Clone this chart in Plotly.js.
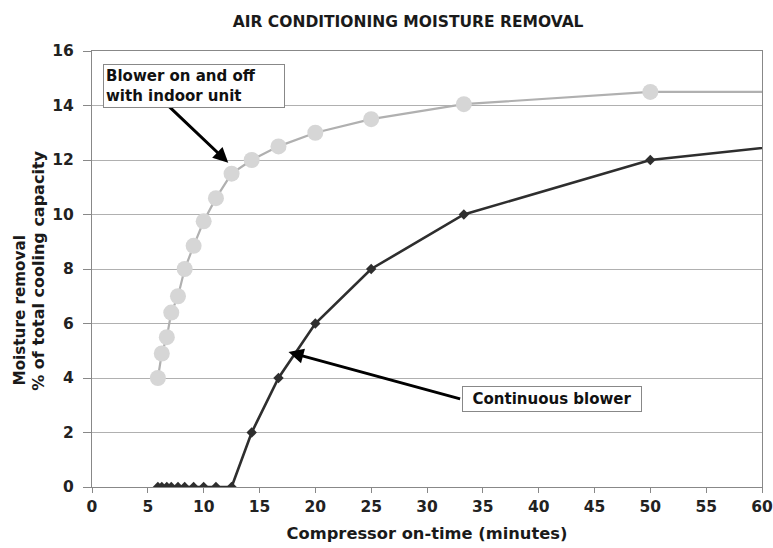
<!DOCTYPE html>
<html>
<head>
<meta charset="utf-8">
<script src="https://cdn.plot.ly/plotly-3.0.1.min.js"></script>
<style>html,body{margin:0;padding:0;background:#fff;}#chart{width:773px;height:548px;}</style>
</head>
<body>
<div id="chart"></div>
<script>
// Compressor on-time (minutes) for each cycle setting
const onTime = [100, 50, 33.3, 25, 20, 16.7, 14.3, 12.5, 11.1, 10, 9.1, 8.3, 7.7, 7.1, 6.7, 6.25, 5.9];
// Moisture removal, % of total cooling capacity
const blowerOnOff = [14.5, 14.5, 14.05, 13.5, 13.0, 12.5, 12.0, 11.5, 10.6, 9.75, 8.85, 8.0, 7.0, 6.4, 5.5, 4.9, 4.0];
const continuousBlower = [14.2, 12.0, 10.0, 8.0, 6.0, 4.0, 2.0, 0, 0, 0, 0, 0, 0, 0, 0, 0, 0];
const xTicks = [0, 5, 10, 15, 20, 25, 30, 35, 40, 45, 50, 55, 60];
const yTicks = [0, 2, 4, 6, 8, 10, 12, 14, 16];

const D = "DejaVu Sans, Verdana, sans-serif";

const traces = [
  {
    x: onTime, y: blowerOnOff, type: 'scatter', mode: 'lines+markers',
    name: 'Blower on and off with indoor unit',
    line: {color: '#b0b0b0', width: 2.2},
    marker: {symbol: 'circle', size: 16, color: '#d6d6d6', line: {width: 0}},
    cliponaxis: true
  },
  {
    x: onTime, y: continuousBlower, type: 'scatter', mode: 'lines+markers',
    name: 'Continuous blower',
    line: {color: '#2e2e2e', width: 2.6},
    marker: {symbol: 'diamond', size: 8, color: '#2e2e2e'},
    cliponaxis: true
  }
];

const layout = {
  width: 773, height: 548,
  margin: {l: 92, r: 11, t: 51, b: 61},
  paper_bgcolor: '#fff', plot_bgcolor: '#fff',
  showlegend: false,
  font: {family: D, size: 13, color: '#222', weight: 700},
  title: {
    text: 'AIR CONDITIONING MOISTURE REMOVAL',
    font: {family: D, size: 15.5, weight: 700, color: '#1a1a1a'},
    x: 0.528, xanchor: 'center', y: 0.96, yanchor: 'middle'
  },
  xaxis: {
    range: [0, 60], tickvals: xTicks, ticktext: xTicks.map(String),
    showgrid: false, zeroline: false,
    showline: true, linecolor: '#888', linewidth: 1, mirror: true,
    ticks: 'outside', ticklen: 5, tickcolor: '#888',
    tickfont: {family: D, size: 15.5, weight: 700, color: '#222'},
    title: {text: 'Compressor on-time (minutes)', font: {family: D, size: 16.3, weight: 700, color: '#1a1a1a'}, standoff: 12}
  },
  yaxis: {
    range: [0, 16], tickvals: yTicks, ticktext: yTicks.map(String),
    showgrid: true, gridcolor: '#b0b0b0', gridwidth: 1, zeroline: false,
    showline: true, linecolor: '#888', linewidth: 1, mirror: true,
    ticks: 'outside', ticklen: 8, tickcolor: '#888', ticklabelstandoff: 6,
    tickfont: {family: D, size: 15.5, weight: 700, color: '#222'}
  },
  annotations: [
    {
      x: -0.107, y: 0.229, xref: 'paper', yref: 'paper', xanchor: 'center', yanchor: 'bottom',
      textangle: -90, showarrow: false, text: 'Moisture removal',
      font: {family: D, size: 15.2, weight: 700, color: '#1a1a1a'}
    },
    {
      x: -0.0795, y: 0.2156, xref: 'paper', yref: 'paper', xanchor: 'center', yanchor: 'bottom',
      textangle: -90, showarrow: false, text: '% of total cooling capacity',
      font: {family: D, size: 16, weight: 700, color: '#1a1a1a'}
    },
    {
      x: 12.2, y: 11.9, xref: 'x', yref: 'y', ax: 6.8, ay: 14.0, axref: 'x', ayref: 'y',
      text: '', showarrow: true, arrowhead: 2, arrowsize: 1, arrowwidth: 3, arrowcolor: '#000'
    },
    {
      x: 9.1, y: 14.72, xref: 'x', yref: 'y', showarrow: false,
      text: 'Blower on and off<br>with indoor unit', align: 'left',
      font: {family: D, size: 15, weight: 600, color: '#111'},
      bgcolor: '#fff', bordercolor: '#888', borderwidth: 1, borderpad: 2, width: 176
    },
    {
      x: 17.6, y: 4.95, xref: 'x', yref: 'y', ax: 33.1, ay: 3.22, axref: 'x', ayref: 'y',
      text: '', showarrow: true, arrowhead: 2, arrowsize: 1, arrowwidth: 3, arrowcolor: '#000'
    },
    {
      x: 41.2, y: 3.24, xref: 'x', yref: 'y', showarrow: false,
      text: 'Continuous blower', align: 'center',
      font: {family: D, size: 15, weight: 600, color: '#111'},
      bgcolor: '#fff', bordercolor: '#888', borderwidth: 1, borderpad: 3, width: 172
    }
  ]
};

Plotly.newPlot('chart', traces, layout, {displayModeBar: false, staticPlot: true});
</script>
</body>
</html>
